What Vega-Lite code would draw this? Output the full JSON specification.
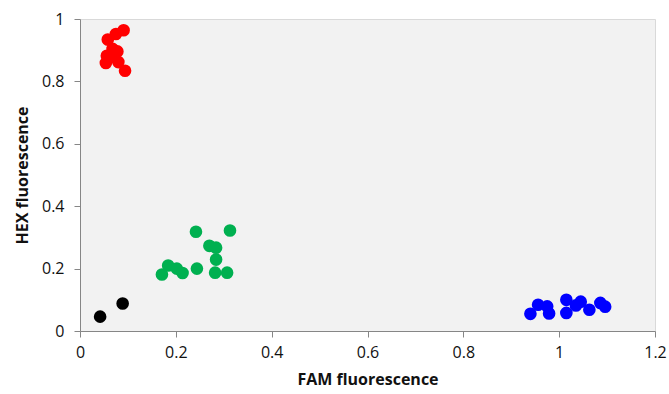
{
  "$schema": "https://vega.github.io/schema/vega-lite/v6.json",
  "autosize": "none",
  "width": 575,
  "height": 312,
  "padding": {"left": 80, "top": 19, "right": 14, "bottom": 63},
  "background": "white",
  "config": {
    "view": {"fill": "#f2f2f2", "stroke": "#d9d9d9"},
    "font": "Open Sans"
  },
  "data": {
    "values": [
      {"fam": 0.058, "hex": 0.934, "group": "HEX"},
      {"fam": 0.075, "hex": 0.952, "group": "HEX"},
      {"fam": 0.091, "hex": 0.964, "group": "HEX"},
      {"fam": 0.056, "hex": 0.882, "group": "HEX"},
      {"fam": 0.054, "hex": 0.859, "group": "HEX"},
      {"fam": 0.068, "hex": 0.904, "group": "HEX"},
      {"fam": 0.078, "hex": 0.896, "group": "HEX"},
      {"fam": 0.070, "hex": 0.879, "group": "HEX"},
      {"fam": 0.080, "hex": 0.862, "group": "HEX"},
      {"fam": 0.094, "hex": 0.834, "group": "HEX"},
      {"fam": 0.171, "hex": 0.181, "group": "Both"},
      {"fam": 0.184, "hex": 0.210, "group": "Both"},
      {"fam": 0.202, "hex": 0.200, "group": "Both"},
      {"fam": 0.214, "hex": 0.186, "group": "Both"},
      {"fam": 0.242, "hex": 0.318, "group": "Both"},
      {"fam": 0.244, "hex": 0.200, "group": "Both"},
      {"fam": 0.270, "hex": 0.273, "group": "Both"},
      {"fam": 0.284, "hex": 0.267, "group": "Both"},
      {"fam": 0.284, "hex": 0.229, "group": "Both"},
      {"fam": 0.282, "hex": 0.187, "group": "Both"},
      {"fam": 0.307, "hex": 0.187, "group": "Both"},
      {"fam": 0.313, "hex": 0.322, "group": "Both"},
      {"fam": 0.042, "hex": 0.046, "group": "None"},
      {"fam": 0.089, "hex": 0.088, "group": "None"},
      {"fam": 0.940, "hex": 0.055, "group": "FAM"},
      {"fam": 0.956, "hex": 0.084, "group": "FAM"},
      {"fam": 0.975, "hex": 0.079, "group": "FAM"},
      {"fam": 0.979, "hex": 0.056, "group": "FAM"},
      {"fam": 1.015, "hex": 0.100, "group": "FAM"},
      {"fam": 1.015, "hex": 0.058, "group": "FAM"},
      {"fam": 1.035, "hex": 0.082, "group": "FAM"},
      {"fam": 1.045, "hex": 0.094, "group": "FAM"},
      {"fam": 1.063, "hex": 0.068, "group": "FAM"},
      {"fam": 1.086, "hex": 0.090, "group": "FAM"},
      {"fam": 1.096, "hex": 0.078, "group": "FAM"}
    ]
  },
  "mark": {"type": "circle", "size": 160, "opacity": 1},
  "encoding": {
    "x": {
      "field": "fam", "type": "quantitative",
      "scale": {"domain": [0, 1.2], "nice": false, "zero": true},
      "axis": {
        "title": "FAM fluorescence",
        "values": [0, 0.2, 0.4, 0.6, 0.8, 1, 1.2],
        "format": "~g",
        "grid": false,
        "labelFlush": false,
        "domainColor": "#868686", "tickColor": "#868686", "tickSize": 6,
        "labelFontSize": 16, "labelColor": "#111", "labelPadding": 7,
        "titleFontSize": 16, "titleFontWeight": "bold", "titleColor": "#111", "titlePadding": 11
      }
    },
    "y": {
      "field": "hex", "type": "quantitative",
      "scale": {"domain": [0, 1], "nice": false},
      "axis": {
        "title": "HEX fluorescence",
        "values": [0, 0.2, 0.4, 0.6, 0.8, 1],
        "format": "~g",
        "grid": false,
        "labelFlush": false,
        "domainColor": "#868686", "tickColor": "#868686", "tickSize": 6,
        "labelFontSize": 16, "labelColor": "#111", "labelPadding": 10,
        "titleFontSize": 16, "titleFontWeight": "bold", "titleColor": "#111", "titlePadding": 11
      }
    },
    "color": {
      "field": "group", "type": "nominal",
      "scale": {"domain": ["HEX", "Both", "None", "FAM"], "range": ["#ff0000", "#00b050", "#000000", "#0000ff"]},
      "legend": null
    }
  }
}
